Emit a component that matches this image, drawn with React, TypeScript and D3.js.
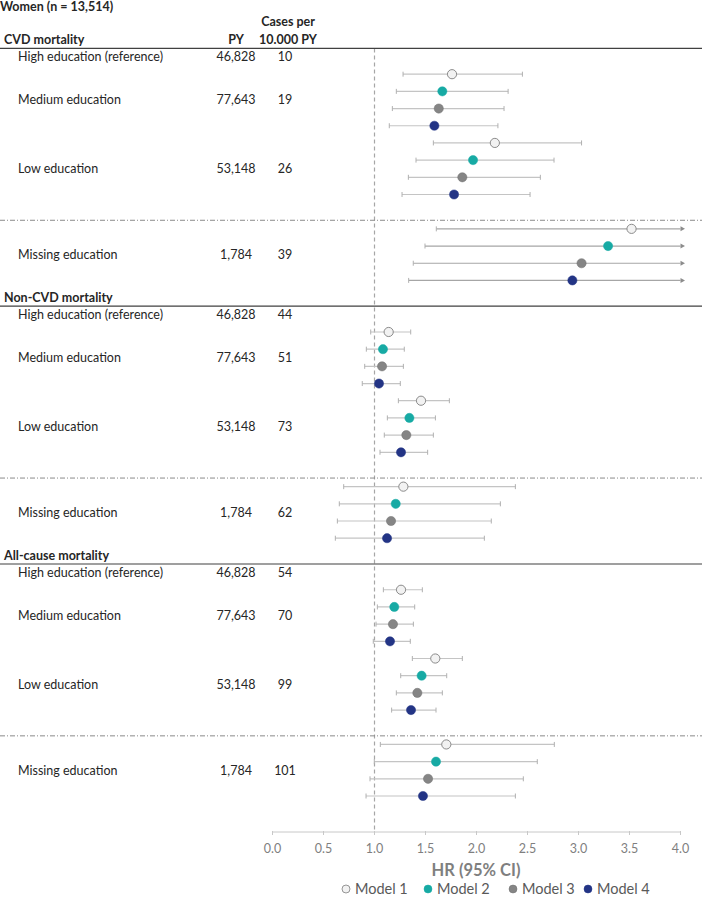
import React from "react";
import * as d3 from "d3";

const W = 702;
const H = 899;

const sections = ["CVD mortality", "Non-CVD mortality", "All-cause mortality"];
const groups = ["High education (reference)", "Medium education", "Low education", "Missing education"];
const personYears = ["46,828", "77,643", "53,148", "1,784"];
const casesCVD = ["10", "19", "26", "39"];
const casesNonCVD = ["44", "51", "73", "62"];
const casesAll = ["54", "70", "99", "101"];
const models = ["Model 1", "Model 2", "Model 3", "Model 4"];
const modelColors = ["#f2f2f2", "#17aaa4", "#858585", "#233485"];
const modelStrokes = ["#7f7f7f", "#17aaa4", "#6f6f6f", "#233485"];
const xTicks = [0, 0.5, 1, 1.5, 2, 2.5, 3, 3.5, 4];

// HR estimates per section -> group (medium, low, missing) -> model
const hrCVD = [
  [1.76, 1.665, 1.63, 1.587],
  [2.18, 1.966, 1.861, 1.78],
  [3.52, 3.29, 3.03, 2.94],
];
const loCVD = [
  [1.28, 1.214, 1.175, 1.145],
  [1.577, 1.407, 1.332, 1.27],
  [1.606, 1.495, 1.38, 1.335],
];
const hiCVD = [
  [2.45, 2.31, 2.27, 2.21],
  [3.03, 2.76, 2.626, 2.525],
  [6.5, 6.2, 5.9, 5.7],
];
const hrNonCVD = [
  [1.139, 1.083, 1.074, 1.044],
  [1.456, 1.342, 1.312, 1.26],
  [1.283, 1.208, 1.162, 1.123],
];
const loNonCVD = [
  [0.963, 0.92, 0.904, 0.88],
  [1.234, 1.126, 1.096, 1.054],
  [0.698, 0.655, 0.636, 0.616],
];
const hiNonCVD = [
  [1.355, 1.292, 1.283, 1.253],
  [1.734, 1.597, 1.577, 1.521],
  [2.381, 2.234, 2.145, 2.077],
];
const hrAll = [
  [1.26, 1.194, 1.181, 1.152],
  [1.596, 1.462, 1.42, 1.358],
  [1.704, 1.603, 1.525, 1.475],
];
const loAll = [
  [1.087, 1.028, 1.015, 0.988],
  [1.371, 1.257, 1.214, 1.168],
  [1.057, 0.998, 0.956, 0.917],
];
const hiAll = [
  [1.469, 1.394, 1.381, 1.351],
  [1.861, 1.708, 1.665, 1.603],
  [2.763, 2.596, 2.459, 2.381],
];

const FONT = "Lato, 'Open Sans', sans-serif";
const TXT = "#262626";

export default function App() {
  const x = d3.scaleLinear().domain([0, 4]).range([272.5, 680.5]);
  const row = d3.scaleLinear().domain([0, 43]).range([57, 796]);
  const cases = [casesCVD, casesNonCVD, casesAll];
  const hr = [hrCVD, hrNonCVD, hrAll];
  const lo = [loCVD, loNonCVD, loAll];
  const hi = [hiCVD, hiNonCVD, hiAll];
  const axisY = 832;
  const xMax = 4;

  // first row of each group relative to the section's reference row
  const groupStart = [0, 1, 5, 10];

  const elems: React.ReactNode[] = [];

  sections.forEach((sec, s) => {
    const base = s * 15; // row index of high education row
    elems.push(
      <text key={`h${s}`} x={4} y={row(base - 1)} dy="0.35em" fontWeight="bold" fontSize={12.5} fill={TXT}>
        {sec}
      </text>
    );
    elems.push(
      <line key={`sl${s}`} x1={0} x2={W} y1={row(base - 0.5)} y2={row(base - 0.5)} stroke="#404040" strokeWidth={1.2} />
    );
    elems.push(
      <line key={`dl${s}`} x1={0} x2={W} y1={row(base + 9.5)} y2={row(base + 9.5)} stroke="#8a8a8a" strokeWidth={1} strokeDasharray="5,2,1,2" />
    );
    groups.forEach((g, gi) => {
      const gy = gi === 0 ? row(base) : row(base + groupStart[gi] + 1.5);
      elems.push(
        <text key={`g${s}${gi}`} x={18} y={gy} dy="0.35em" fontSize={12.5} fill={TXT}>{g}</text>,
        <text key={`p${s}${gi}`} x={236} y={gy} dy="0.35em" fontSize={12.5} fill={TXT} textAnchor="middle">{personYears[gi]}</text>,
        <text key={`c${s}${gi}`} x={285} y={gy} dy="0.35em" fontSize={12.5} fill={TXT} textAnchor="middle">{cases[s][gi]}</text>
      );
      if (gi === 0) return;
      models.forEach((m, mi) => {
        const yy = row(base + groupStart[gi] + mi);
        const v = hr[s][gi - 1][mi];
        const l = lo[s][gi - 1][mi];
        const h = hi[s][gi - 1][mi];
        const clipped = h > xMax;
        const x1 = x(l);
        const x2 = clipped ? x(xMax) : x(h);
        elems.push(
          <line key={`ci${s}${gi}${mi}`} x1={x1} x2={x2} y1={yy} y2={yy} stroke={clipped ? "#a6a6a6" : "#c4c4c4"} strokeWidth={1.2} />,
          <line key={`cl${s}${gi}${mi}`} x1={x1} x2={x1} y1={yy - 2.5} y2={yy + 2.5} stroke="#b0b0b0" strokeWidth={1} />
        );
        if (clipped) {
          elems.push(
            <path key={`ar${s}${gi}${mi}`} d={`M${x2},${yy - 2.5}L${x2 + 4.5},${yy}L${x2},${yy + 2.5}Z`} fill="#8c8c8c" />
          );
        } else {
          elems.push(
            <line key={`ch${s}${gi}${mi}`} x1={x2} x2={x2} y1={yy - 2.5} y2={yy + 2.5} stroke="#b0b0b0" strokeWidth={1} />
          );
        }
        elems.push(
          <circle key={`pt${s}${gi}${mi}`} cx={x(v)} cy={yy} r={4.6} fill={modelColors[mi]} stroke={modelStrokes[mi]} strokeWidth={mi === 0 ? 0.9 : 0.5} />
        );
      });
    });
  });

  const legendX = [346, 428, 513, 588];

  return (
    <svg width={W} height={H} style={{ position: "absolute", left: 0, top: 0, fontFamily: FONT }}>
      <rect width={W} height={H} fill="#ffffff" />
      <text x={0} y={11} fontWeight="bold" fontSize={12.5} fill={TXT}>Women (n = 13,514)</text>
      <text x={288} y={22} dy="0.35em" fontWeight="bold" fontSize={12.5} fill={TXT} textAnchor="middle">Cases per</text>
      <text x={288} y={row(-1)} dy="0.35em" fontWeight="bold" fontSize={12.5} fill={TXT} textAnchor="middle">10.000 PY</text>
      <text x={236} y={row(-1)} dy="0.35em" fontWeight="bold" fontSize={12.5} fill={TXT} textAnchor="middle">PY</text>
      <line x1={x(1)} x2={x(1)} y1={row(-0.5)} y2={axisY} stroke="#a6a6a6" strokeWidth={1.2} strokeDasharray="4,3" />
      {elems}
      <line x1={x(0)} x2={x(4)} y1={axisY} y2={axisY} stroke="#c8c8c8" strokeWidth={1} />
      {xTicks.map((t) => (
        <g key={`t${t}`}>
          <line x1={x(t)} x2={x(t)} y1={axisY - 1} y2={axisY + 3} stroke="#c8c8c8" />
          <text x={x(t)} y={849} dy="0.35em" fontSize={12.5} fill="#7f7f7f" textAnchor="middle">{t.toFixed(1)}</text>
        </g>
      ))}
      <text x={476} y={870} dy="0.35em" fontWeight="bold" fontSize={16.5} fill="#7f7f7f" textAnchor="middle">HR (95% CI)</text>
      {models.map((m, i) => (
        <g key={m}>
          <circle cx={legendX[i]} cy={889} r={4} fill={modelColors[i]} stroke={modelStrokes[i]} strokeWidth={i === 0 ? 0.8 : 0.5} />
          <text x={legendX[i] + 9} y={889} dy="0.35em" fontSize={14.5} fill="#595959">{m}</text>
        </g>
      ))}
    </svg>
  );
}
